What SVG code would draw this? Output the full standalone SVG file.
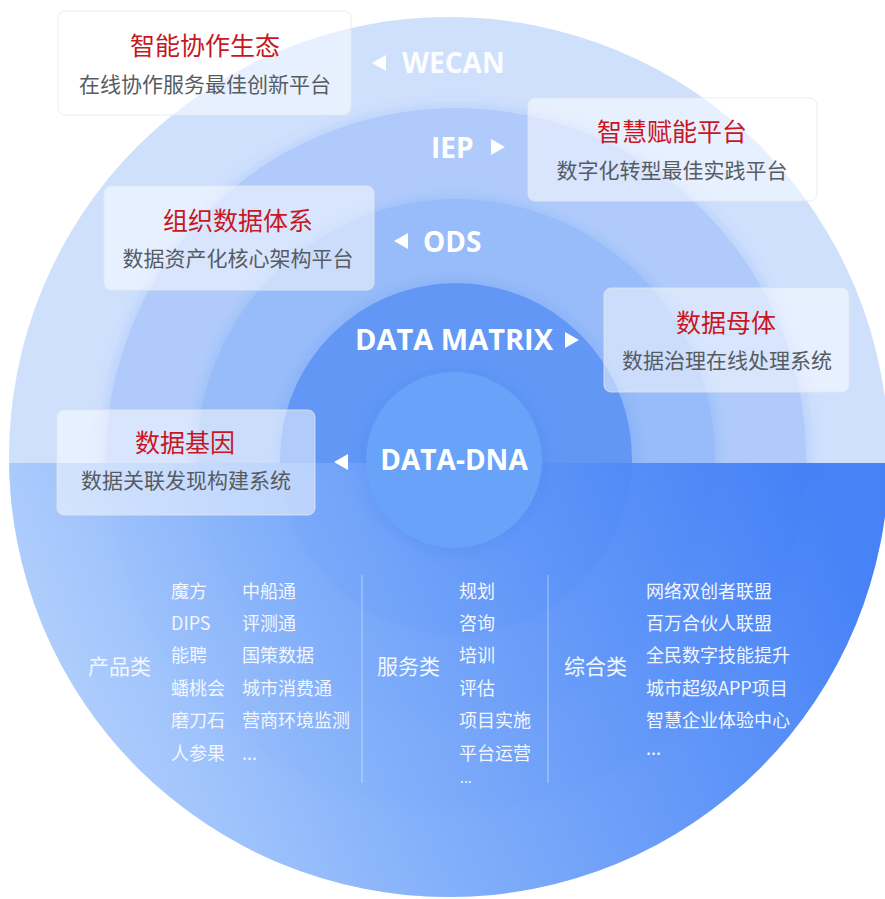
<svg xmlns="http://www.w3.org/2000/svg" width="885" height="899" viewBox="0 0 885 899">
<defs>
<style>
.cn{font-family:"Noto Sans CJK SC","Noto Sans",sans-serif}
.en{font-family:"Open Sans","Noto Sans",sans-serif;font-weight:700;fill:#ffffff}
.box{fill:#ffffff;fill-opacity:0.5;stroke:#e3e7ee;stroke-opacity:0.8;stroke-width:1}
.ttl{font-family:"Noto Sans CJK SC",sans-serif;font-size:25px;fill:#c8171f;text-anchor:middle}
.sub{font-family:"Noto Sans CJK SC",sans-serif;font-size:21px;fill:#575c63;text-anchor:middle}
.lst{font-family:"Noto Sans CJK SC","Noto Sans",sans-serif;font-size:18px;fill:#f2f6ff}
.dots{font-family:"Noto Sans CJK SC","Noto Sans",sans-serif;font-size:14px;fill:#f2f6ff}
.cat{font-family:"Noto Sans CJK SC",sans-serif;font-size:21px;fill:#f2f6ff}
.tri{fill:#ffffff}
.div{stroke:#ffffff;stroke-opacity:0.4;stroke-width:1.2}
</style>
<clipPath id="outerClip"><circle cx="449" cy="457" r="440"/></clipPath>
<linearGradient id="lowGrad" x1="0" y1="0.6" x2="1" y2="0.4">
<stop offset="0" stop-color="#b8d4fd"/>
<stop offset="0.4" stop-color="#7dacfa"/>
<stop offset="1" stop-color="#3878f6"/>
</linearGradient>
<filter id="soft" x="-30%" y="-30%" width="160%" height="160%">
<feGaussianBlur in="SourceAlpha" stdDeviation="8"/>
<feOffset dx="0" dy="2" result="b"/>
<feFlood flood-color="#2f6be6" flood-opacity="0.22"/>
<feComposite in2="b" operator="in"/>
<feMerge><feMergeNode/><feMergeNode in="SourceGraphic"/></feMerge>
</filter>
</defs>
<rect width="885" height="899" fill="#ffffff"/>
<g id="rings">
<circle cx="449" cy="457" r="440" fill="#cfe0fd"/>
<circle cx="456" cy="458" r="350" fill="#b0cbfb" filter="url(#soft)"/>
<circle cx="456" cy="458" r="259" fill="#98bbf9" filter="url(#soft)"/>
<circle cx="456" cy="459" r="176" fill="#6297f6" filter="url(#soft)"/>
</g>
<g id="lower-half" clip-path="url(#outerClip)">
<rect x="0" y="463" width="885" height="436" fill="url(#lowGrad)" fill-opacity="0.9"/>
</g>
<g id="data-dna">
<circle cx="454" cy="460" r="88" fill="#69a3f9" filter="url(#soft)"/>
<text class="en" x="454" y="470" font-size="28" text-anchor="middle">DATA-DNA</text>
<polygon class="tri" points="348,454 348,470 334,462"/>
</g>
<g id="wecan">
<text class="en" x="402" y="73" font-size="28" fill-opacity="0.95">WECAN</text>
<polygon class="tri" points="386,55 386,71 372,63"/>
</g>
<g id="iep">
<text class="en" x="431" y="158" font-size="28">IEP</text>
<polygon class="tri" points="491,139 491,155 505,147"/>
</g>
<g id="ods">
<text class="en" x="423" y="252" font-size="28">ODS</text>
<polygon class="tri" points="408,233 408,249 394,241"/>
</g>
<g id="data-matrix">
<text class="en" x="355" y="350" font-size="29">DATA MATRIX</text>
<polygon class="tri" points="565,332 565,348 579,340"/>
</g>
<g id="box-wecan">
<rect class="box" x="58" y="11" width="293" height="104" rx="7"/>
<text class="ttl" x="205" y="55">智能协作生态</text>
<text class="sub" x="205" y="92">在线协作服务最佳创新平台</text>
</g>
<g id="box-iep">
<rect class="box" x="528" y="98" width="289" height="103" rx="7"/>
<text class="ttl" x="672" y="141">智慧赋能平台</text>
<text class="sub" x="672" y="178">数字化转型最佳实践平台</text>
</g>
<g id="box-ods">
<rect class="box" x="104" y="186" width="270" height="104" rx="7"/>
<text class="ttl" x="238" y="230">组织数据体系</text>
<text class="sub" x="238" y="266">数据资产化核心架构平台</text>
</g>
<g id="box-matrix">
<rect class="box" x="604" y="288" width="245" height="104" rx="7"/>
<text class="ttl" x="726" y="332">数据母体</text>
<text class="sub" x="727" y="368">数据治理在线处理系统</text>
</g>
<g id="box-dna">
<rect class="box" x="57" y="410" width="258" height="105" rx="7"/>
<text class="ttl" x="185" y="452">数据基因</text>
<text class="sub" x="186" y="488">数据关联发现构建系统</text>
</g>
<g id="products">
<text class="cat" x="88" y="674">产品类</text>
<text class="lst" x="171" y="598">魔方</text>
<text class="lst" x="171" y="630">DIPS</text>
<text class="lst" x="171" y="662">能聘</text>
<text class="lst" x="171" y="695">蟠桃会</text>
<text class="lst" x="171" y="727">磨刀石</text>
<text class="lst" x="171" y="760">人参果</text>
<text class="lst" x="242" y="598">中船通</text>
<text class="lst" x="242" y="630">评测通</text>
<text class="lst" x="242" y="662">国策数据</text>
<text class="lst" x="242" y="695">城市消费通</text>
<text class="lst" x="242" y="727">营商环境监测</text>
<text class="lst" x="242" y="760">...</text>
</g>
<g id="services">
<text class="cat" x="377" y="674">服务类</text>
<text class="lst" x="459" y="598">规划</text>
<text class="lst" x="459" y="630">咨询</text>
<text class="lst" x="459" y="662">培训</text>
<text class="lst" x="459" y="695">评估</text>
<text class="lst" x="459" y="727">项目实施</text>
<text class="lst" x="459" y="760">平台运营</text>
<text class="dots" x="460" y="783">...</text>
</g>
<g id="general">
<text class="cat" x="564" y="674">综合类</text>
<text class="lst" x="646" y="598">网络双创者联盟</text>
<text class="lst" x="646" y="630">百万合伙人联盟</text>
<text class="lst" x="646" y="662">全民数字技能提升</text>
<text class="lst" x="646" y="695">城市超级APP项目</text>
<text class="lst" x="646" y="727">智慧企业体验中心</text>
<text class="lst" x="646" y="755">...</text>
</g>
<g id="connectors">
<line class="div" x1="362" y1="575" x2="362" y2="783"/>
<line class="div" x1="548" y1="575" x2="548" y2="783"/>
</g>
</svg>
